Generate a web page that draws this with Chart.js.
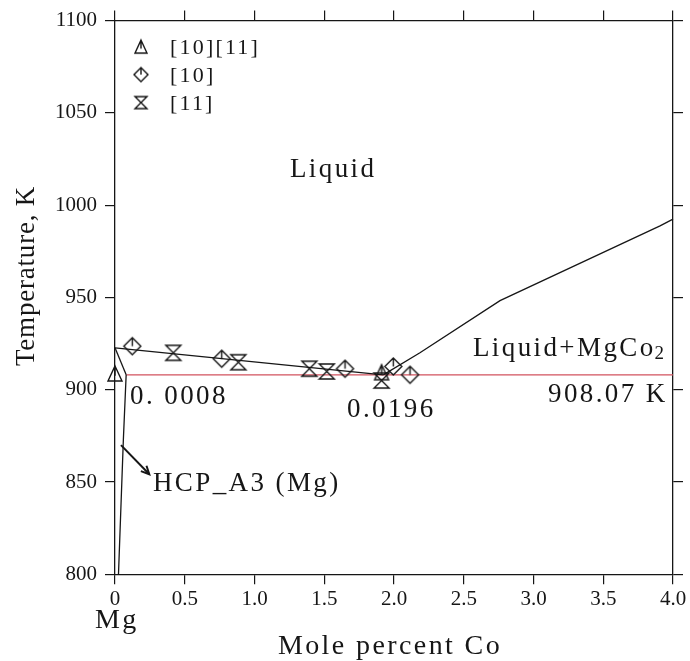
<!DOCTYPE html>
<html>
<head>
<meta charset="utf-8">
<script src="https://cdn.jsdelivr.net/npm/chart.js@4.4.0/dist/chart.umd.min.js"></script>
<style>
  html, body { margin: 0; padding: 0; background: #fff; }
  canvas { display: block; }
</style>
</head>
<body>
<canvas id="chart" width="690" height="661"></canvas>
<script>
// Mg-Co 富Mg端相图 (Mole percent Co 0-4)

const xTickLabels = ['0', '0.5', '1.0', '1.5', '2.0', '2.5', '3.0', '3.5', '4.0'];
const yTickLabels = ['800', '850', '900', '950', '1000', '1050', '1100'];

// 液相线 Mg 侧
const liqLeftX = [0, 1.923];
const liqLeftT = [922.7, 908.07];
// 液相线 MgCo2 侧
const liqRightX = [1.923, 2.186, 2.76, 3.907, 4.0];
const liqRightT = [908.07, 920.0, 948.3, 988.8, 992.4];
// 固相线
const solidusX = [0, 0.08];
const solidusT = [922.7, 908.07];
// 固溶度线
const solvusX = [0.08, 0.06, 0.025];
const solvusT = [908.07, 873, 800];
// 共晶线 908.07 K
const eutecticX = [0.08, 4.0];
const eutecticT = [908.07, 908.07];
// HCP_A3 指示箭头
const arrowX = [0.043, 0.246];
const arrowT = [870, 854.2];

// 实验点
const ref1011X = [0, 1.911];
const ref1011T = [908.8, 909.5];
const ref10X = [0.124, 0.765, 1.649, 1.995, 2.115];
const ref10T = [923.6, 916.8, 911.4, 912.6, 908.1];
const ref11X = [0.418, 0.884, 1.393, 1.518, 1.911];
const ref11T = [920.0, 914.9, 911.4, 909.9, 905.0];

const legendLabels = ['[10][11]', '[10]', '[11]'];

const INK = '#161616';
const SERIF = "'Liberation Serif', 'DejaVu Serif', serif";

function pts(xs, ys) {
    return xs.map((x, i) => ({ x: x, y: ys[i] }));
}

function makeMarker(kind, w, h) {
    const c = document.createElement('canvas');
    c.width = w + 4;
    c.height = h + 4;
    const g = c.getContext('2d');
    g.strokeStyle = INK;
    g.lineWidth = 1.4;
    const cx = c.width / 2, cy = c.height / 2, hw = w / 2, hh = h / 2;
    g.beginPath();
    if (kind === 'triangle') {
        g.moveTo(cx, cy - hh); g.lineTo(cx + hw, cy + hh); g.lineTo(cx - hw, cy + hh); g.closePath();
        g.moveTo(cx, cy - hh); g.lineTo(cx, cy + hh * 0.3);
    } else if (kind === 'diamond') {
        g.moveTo(cx, cy - hh); g.lineTo(cx + hw, cy); g.lineTo(cx, cy + hh); g.lineTo(cx - hw, cy); g.closePath();
        g.moveTo(cx, cy - hh); g.lineTo(cx, cy);
    } else {
        // 沙漏形
        g.moveTo(cx - hw, cy - hh); g.lineTo(cx + hw, cy - hh); g.lineTo(cx - hw, cy + hh); g.lineTo(cx + hw, cy + hh); g.closePath();
    }
    g.stroke();
    return c;
}

const mTri = makeMarker('triangle', 14, 15);
const mDia = makeMarker('diamond', 17, 17);
const mBow = makeMarker('bowtie', 15, 15);
const legendMarkers = [makeMarker('triangle', 12, 13), makeMarker('diamond', 14, 14), makeMarker('bowtie', 12, 12)];

function lineSet(xs, ys, color, width) {
    return {
        data: pts(xs, ys), showLine: true, borderColor: color, borderWidth: width,
        pointRadius: 0, clip: false, order: 2
    };
}
function pointSet(xs, ys, marker) {
    return {
        data: pts(xs, ys), showLine: false, pointStyle: marker, pointRadius: 8,
        clip: false, order: 1
    };
}

// 文字标注 (数据坐标, 左对齐, 垂直居中)
const notes = [
    { text: 'Liquid', x: 1.254, y: 1020.2 },
    { text: '0. 0008', x: 0.108, y: 897 },
    { text: '0.0196', x: 1.663, y: 890 },
    { text: '908.07 K', x: 3.104, y: 898 },
    { text: 'HCP_A3 (Mg)', x: 0.272, y: 850 }
];

const annotPlugin = {
    id: 'annot',
    afterDatasetsDraw(chart) {
        const ctx = chart.ctx;
        const xs = chart.scales.x, ys = chart.scales.y;
        const area = chart.chartArea;
        ctx.save();
        ctx.fillStyle = INK;
        ctx.textBaseline = 'alphabetic';

        // 区域及数值标注
        ctx.font = '27px ' + SERIF;
        ctx.letterSpacing = '2.4px';
        ctx.textAlign = 'left';
        notes.forEach(n => {
            ctx.fillText(n.text, xs.getPixelForValue(n.x), ys.getPixelForValue(n.y) + 9);
        });
        // Liquid+MgCo2 (下标)
        const lx = xs.getPixelForValue(2.566), ly = ys.getPixelForValue(922.9) + 9;
        ctx.fillText('Liquid+MgCo', lx, ly);
        const w = ctx.measureText('Liquid+MgCo').width;
        ctx.font = '19px ' + SERIF;
        ctx.fillText('2', lx + w - 1, ly + 3);

        // 箭头
        const x0 = xs.getPixelForValue(arrowX[0]), y0 = ys.getPixelForValue(arrowT[0]);
        const x1 = xs.getPixelForValue(arrowX[1]), y1 = ys.getPixelForValue(arrowT[1]);
        const ang = Math.atan2(y1 - y0, x1 - x0);
        ctx.strokeStyle = INK;
        ctx.lineWidth = 2;
        ctx.beginPath();
        ctx.moveTo(x1 - 9 * Math.cos(ang - 0.45), y1 - 9 * Math.sin(ang - 0.45));
        ctx.lineTo(x1, y1);
        ctx.lineTo(x1 - 9 * Math.cos(ang + 0.45), y1 - 9 * Math.sin(ang + 0.45));
        ctx.stroke();

        // 图例
        ctx.font = '22px ' + SERIF;
        ctx.letterSpacing = '2.2px';
        legendLabels.forEach((lab, i) => {
            const cy = area.top + 26 + i * 28;
            const m = legendMarkers[i];
            ctx.drawImage(m, area.left + 26 - m.width / 2, cy - m.height / 2);
            ctx.fillText(lab, area.left + 55, cy + 7);
        });

        // 轴标题
        ctx.font = '28px ' + SERIF;
        ctx.letterSpacing = '2.4px';
        ctx.fillText('Mg', xs.getPixelForValue(0) - 20, 628);
        ctx.textAlign = 'center';
        ctx.fillText('Mole percent Co', 390, 654);

        ctx.translate(34, 276);
        ctx.rotate(-Math.PI / 2);
        ctx.font = '27px ' + SERIF;
        ctx.letterSpacing = '0.8px';
        ctx.fillText('Temperature, K', 0, 0);
        ctx.restore();
    }
};

const axisGrid = { drawOnChartArea: false, drawTicks: true, tickLength: 10, color: INK, lineWidth: 1.2 };
const axisBorder = { display: true, color: INK, width: 1.3 };
const tickFont = { family: SERIF, size: 21 };

new Chart(document.getElementById('chart'), {
    type: 'scatter',
    data: {
        datasets: [
            lineSet(liqLeftX, liqLeftT, INK, 1.3),
            lineSet(liqRightX, liqRightT, INK, 1.3),
            lineSet(solidusX, solidusT, INK, 1.3),
            lineSet(solvusX, solvusT, INK, 1.3),
            lineSet(eutecticX, eutecticT, '#d2525e', 1.3),
            lineSet(arrowX, arrowT, INK, 2),
            pointSet(ref1011X, ref1011T, mTri),
            pointSet(ref10X, ref10T, mDia),
            pointSet(ref11X, ref11T, mBow)
        ]
    },
    options: {
        responsive: false,
        animation: false,
        layout: { padding: 0 },
        plugins: { legend: { display: false }, tooltip: { enabled: false } },
        scales: {
            x: {
                type: 'linear', position: 'bottom', min: 0, max: 4,
                afterFit: s => { s.height = 86.7; },
                ticks: {
                    stepSize: 0.5, autoSkip: false, maxRotation: 0, padding: 3,
                    color: INK, font: tickFont,
                    callback: (v, i) => xTickLabels[i]
                },
                grid: axisGrid, border: axisBorder
            },
            x2: {
                type: 'linear', position: 'top', min: 0, max: 4,
                afterFit: s => { s.height = 19.3; },
                ticks: { stepSize: 0.5, display: false },
                grid: axisGrid, border: axisBorder
            },
            y: {
                type: 'linear', position: 'left', min: 800, max: 1100,
                afterFit: s => { s.width = 115; },
                ticks: {
                    stepSize: 50, autoSkip: false, padding: 8,
                    color: INK, font: tickFont,
                    callback: (v, i) => yTickLabels[i]
                },
                grid: axisGrid, border: axisBorder
            },
            y2: {
                type: 'linear', position: 'right', min: 800, max: 1100,
                afterFit: s => { s.width = 17; },
                ticks: { stepSize: 50, display: false },
                grid: axisGrid, border: axisBorder
            }
        }
    },
    plugins: [annotPlugin]
});
</script>
</body>
</html>
